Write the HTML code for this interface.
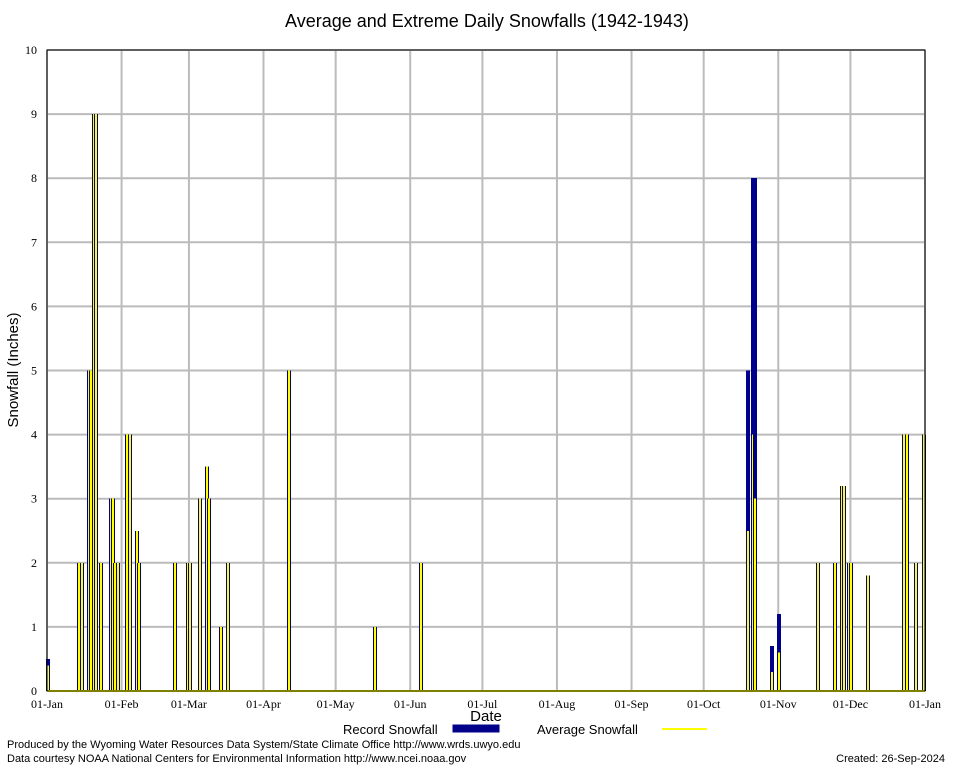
<!DOCTYPE html>
<html><head><meta charset="utf-8"><style>
body{margin:0;background:#fff;}
svg{display:block;font-family:"Liberation Sans","DejaVu Sans",sans-serif;}
</style></head><body>
<svg id="chart" width="954" height="768">
<text x="487" y="27" font-size="18" text-anchor="middle">Average and Extreme Daily Snowfalls (1942-1943)</text>
<text transform="translate(18,370) rotate(-90)" font-size="15" text-anchor="middle">Snowfall (Inches)</text>
<text x="486" y="721" font-size="15" text-anchor="middle">Date</text>
<g id="grid"></g>
<g id="bars" shape-rendering="crispEdges"></g>
<g id="axes"></g>
<g>
<text x="343" y="734" font-size="13">Record Snowfall</text>
<rect x="453" y="725" width="46" height="7" fill="#00008b" stroke="#00008b"/>
<text x="537" y="734" font-size="13">Average Snowfall</text>
<line x1="662" y1="729" x2="707" y2="729" stroke="#ffff00" stroke-width="2"/>
</g>
<text x="7" y="748" font-size="11">Produced by the Wyoming Water Resources Data System/State Climate Office http://www.wrds.uwyo.edu</text>
<text x="7" y="762" font-size="11">Data courtesy NOAA National Centers for Environmental Information http://www.ncei.noaa.gov</text>
<text x="945" y="762" font-size="11" text-anchor="end">Created:  26-Sep-2024</text>
</svg>
<script>
const days   =[0,  13,14,17,18,19,20,22,26,27,28,29,33,34,37, 38,53,58,59,63,66, 67,72,75,100,136,155,291,293,294,301,304,320,327,330,331,333,334,341,356,357,361,364];
const record =[0.5,2, 2, 5, 5, 9, 9, 2, 3, 3, 2, 2, 4, 4, 2.5,2, 2, 2, 2, 3, 3.5,3, 1, 2, 5,  1,  2,  5,  8,  8,  0.7,1.2,2,  2,  3.2,3.2,2,  2,  1.8,4,  4,  2,  4];
const average=[0.4,2, 2, 5, 5, 9, 9, 2, 3, 3, 2, 2, 4, 4, 2.5,2, 2, 2, 2, 3, 3.5,3, 1, 2, 5,  1,  2,  2.5,4,  3,  0.3,0.6,2,  2,  3.2,3.2,2,  2,  1.8,4,  4,  2,  4];
const yTicks=[0,1,2,3,4,5,6,7,8,9,10];
const monthLabels=["01-Jan","01-Feb","01-Mar","01-Apr","01-May","01-Jun","01-Jul","01-Aug","01-Sep","01-Oct","01-Nov","01-Dec","01-Jan"];
const monthStarts=[0,31,59,90,120,151,181,212,243,273,304,334,365];
const L=47,R=925,T=50,B=691,NS="http://www.w3.org/2000/svg";
const xs=d=>L+d*(R-L)/365, ys=v=>B-v*(B-T)/10;
function mk(tag,attrs,parent){const e=document.createElementNS(NS,tag);for(const k in attrs)e.setAttribute(k,attrs[k]);document.getElementById(parent).appendChild(e);return e;}
yTicks.forEach(v=>{
 const g=mk('line',{x1:L,x2:R,y1:ys(v),y2:ys(v),stroke:'#bbb','stroke-width':2},'grid');
 
 
 const t=mk('text',{x:L-10,y:ys(v)+4,'font-size':12,'text-anchor':'end','font-family':'Liberation Serif, serif'},'axes');
 t.textContent=v;
 
 
});
monthStarts.forEach((d,i)=>{
 const g=mk('line',{x1:xs(d),x2:xs(d),y1:T,y2:B,stroke:'#bbb','stroke-width':2},'grid');
 
 
 const t=mk('text',{x:xs(d),y:708,'font-size':12,'text-anchor':'middle','font-family':'Liberation Serif, serif'},'axes');
 t.textContent=monthLabels[i];
 
 
});
const w=(R-L)/365;
days.forEach((d,i)=>{
 const x=Math.round(xs(d))-1;
 const b=mk('rect',{x:x,y:ys(record[i]),width:4,height:B-ys(record[i]),fill:'#00008b'},'bars');
 
 
 const a=mk('rect',{x:x+1,y:ys(average[i]),width:2,height:B-ys(average[i]),fill:'#ffff00'},'bars');
 
 
});
const base=mk('line',{x1:L,x2:R,y1:B,y2:B,stroke:'#ffff00','stroke-width':2},'bars');


const fr=mk('rect',{x:L,y:T,width:R-L,height:B-T,fill:'none',stroke:'#000','stroke-width':1},'axes');


</script>
</body></html>
